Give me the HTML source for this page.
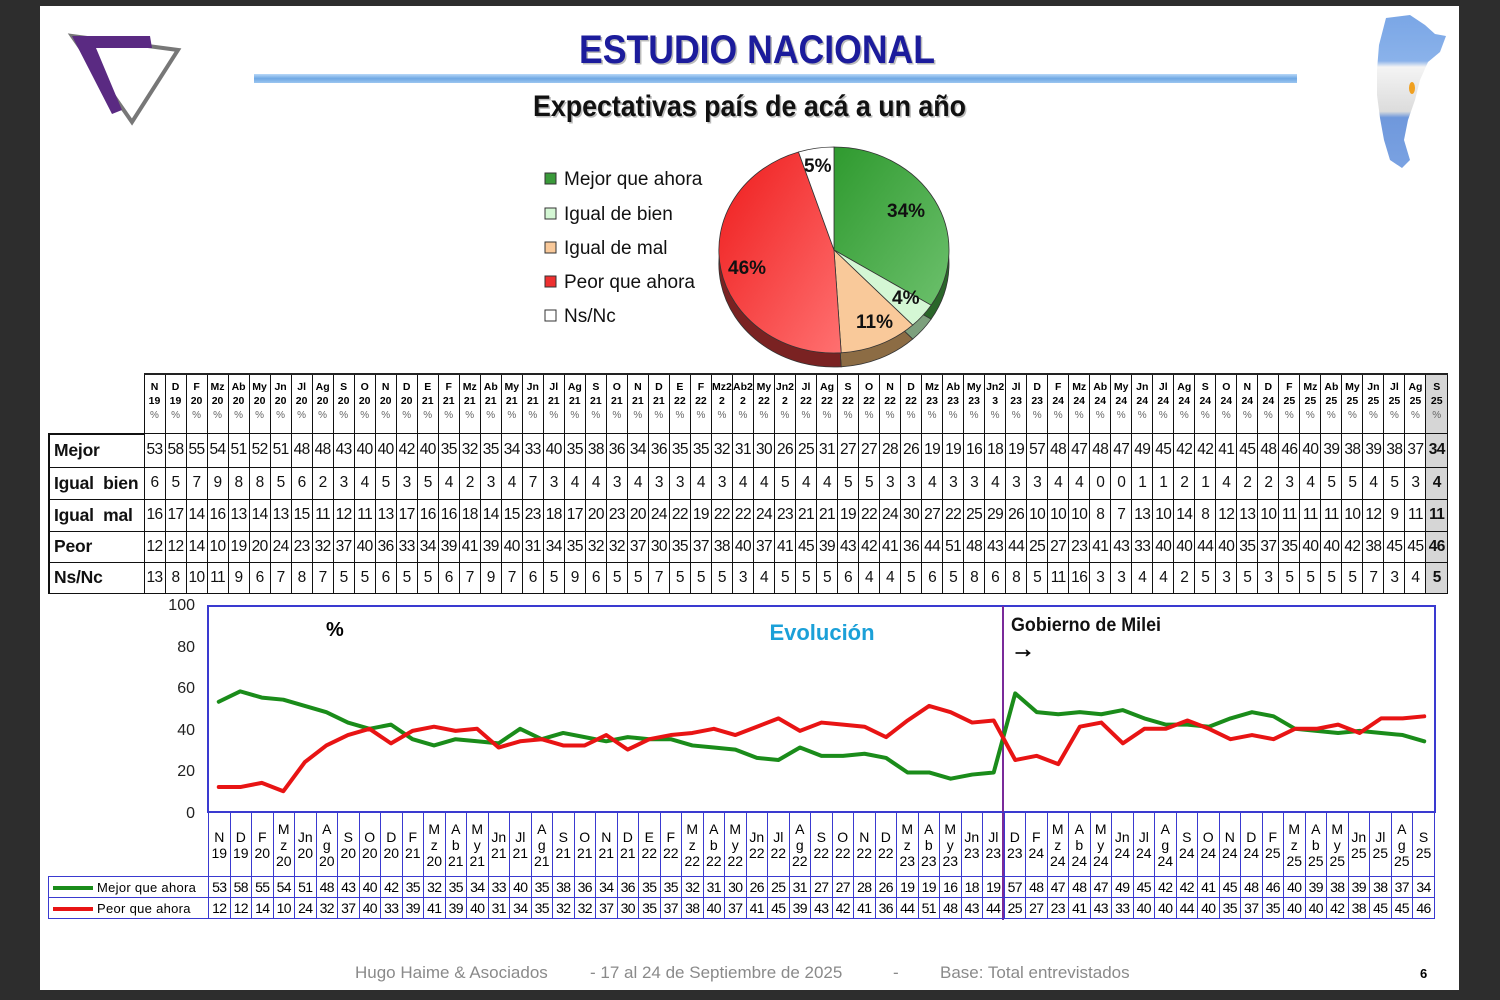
<!DOCTYPE html>
<html><head><meta charset="utf-8"><style>
body{margin:0;width:1500px;height:1000px;background:#2d2d2d;position:relative;overflow:hidden;font-family:"Liberation Sans",sans-serif}
#slide{position:absolute;left:40px;top:6px;width:1419px;height:984px;background:#fff}
table{position:absolute;border-collapse:collapse;table-layout:fixed}
#t1{left:48px;top:373px;width:1400px}
#t1 td,#t1 th{border:1.5px solid #111;padding:0;text-align:center;overflow:hidden;white-space:nowrap}
#t1 th{font-size:10.5px;font-weight:bold;line-height:14px;height:53px;vertical-align:top;padding-top:5px;border-top:2px solid #222}
#t1 th i{font-style:normal;font-weight:normal;color:#666;font-size:10px}
#t1 td{font-size:15.5px;letter-spacing:-0.6px;color:#111}
#t1 td.l{text-align:left;font-weight:bold;font-size:17.5px;letter-spacing:-0.2px;padding-left:4px;border-left:2px solid #111}
#t1 tr.r1 td{height:32px}#t1 tr.r2 td{height:31px}#t1 tr.r3 td{height:31px}#t1 tr.r4 td{height:30px}#t1 tr.r5 td{height:30px}
#t1 td:last-child,#t1 th:last-child{background:#d6d6d6;font-weight:bold}
#t2{left:48px;top:812px;width:1387px}
#t2 td{border:1.5px solid #3a3ad0;padding:0;text-align:center;font-size:14px;letter-spacing:-0.6px;white-space:nowrap;overflow:hidden}
#t2 tr.h td{height:63px;font-size:14px;line-height:16px;letter-spacing:0}
#t2 tr.d td{height:20px}
#t2 td.e{border:none;border-right:1.5px solid #3a3ad0}
#t2 td.lg{text-align:left;font-size:13px;letter-spacing:0.3px}
.sw{display:inline-block;width:40px;height:4px;vertical-align:middle;margin:0 4px 0 4px}
</style></head><body>
<div id="slide"></div>
<svg width="1500" height="1000" style="position:absolute;left:0;top:0">
<defs>
<linearGradient id="bl" x1="0" y1="0" x2="0" y2="1"><stop offset="0" stop-color="#b8d8f8"/><stop offset="0.5" stop-color="#6fa8e4"/><stop offset="1" stop-color="#9cc6f0"/></linearGradient>
<linearGradient id="gr" x1="0" y1="0" x2="1" y2="1"><stop offset="0" stop-color="#2f9a2f"/><stop offset="1" stop-color="#6cc06c"/></linearGradient>
<linearGradient id="rd" x1="0" y1="0" x2="1" y2="1"><stop offset="0" stop-color="#ee1c1c"/><stop offset="1" stop-color="#ff7070"/></linearGradient>
<linearGradient id="ar" x1="0" y1="0" x2="0" y2="1"><stop offset="0" stop-color="#7aa6e6"/><stop offset="0.3" stop-color="#8ab2ea"/><stop offset="0.34" stop-color="#f4f4f4"/><stop offset="0.63" stop-color="#dcdcdc"/><stop offset="0.67" stop-color="#6f98dc"/><stop offset="1" stop-color="#7aa2e2"/></linearGradient>
</defs>
<polygon points="72,36 178,50 132,122" fill="none" stroke="#777" stroke-width="4"/>
<polygon points="72,36 150,36 152,48 96,48 122,110 112,114" fill="#5a2a82"/>
<path d="M1386,18 L1410,15 L1425,25 L1435,34 L1446,36 L1440,52 L1428,62 L1420,80 L1415,100 L1408,120 L1404,140 L1410,160 L1402,168 L1390,160 L1384,140 L1380,118 L1377,95 L1377,70 L1379,45 Z" fill="url(#ar)"/>
<ellipse cx="1412" cy="88" rx="3" ry="6" fill="#f0a020"/>
<text x="580.5" y="64.5" font-size="40" font-weight="bold" fill="#bbb" textLength="356" lengthAdjust="spacingAndGlyphs">ESTUDIO NACIONAL</text>
<text x="579" y="63" font-size="40" font-weight="bold" fill="#1c1c9c" textLength="356" lengthAdjust="spacingAndGlyphs">ESTUDIO NACIONAL</text>
<rect x="254" y="74" width="1043" height="9" fill="url(#bl)"/>
<text x="534.5" y="117.5" font-size="30" font-weight="bold" fill="#bbb" textLength="433" lengthAdjust="spacingAndGlyphs">Expectativas país de acá a un año</text>
<text x="533" y="116" font-size="30" font-weight="bold" fill="#111" textLength="433" lengthAdjust="spacingAndGlyphs">Expectativas país de acá a un año</text>
<g font-size="19" fill="#111">
<rect x="545" y="173" width="11" height="11" fill="#3a9a3a" stroke="#333"/><text x="564" y="185">Mejor que ahora</text>
<rect x="545" y="208" width="11" height="11" fill="#d4f7d4" stroke="#333"/><text x="564" y="220">Igual de bien</text>
<rect x="545" y="242" width="11" height="11" fill="#f9c99a" stroke="#333"/><text x="564" y="254">Igual de mal</text>
<rect x="545" y="276" width="11" height="11" fill="#ee3030" stroke="#333"/><text x="564" y="288">Peor que ahora</text>
<rect x="545" y="310" width="11" height="11" fill="#fff" stroke="#333"/><text x="564" y="322">Ns/Nc</text>
</g>
<g transform="translate(0,14)" stroke="#333" stroke-width="0.8">
<path d="M834,250 L834,147 A115,103 0 0 1 931.1,305.2 Z" fill="#2a662a"/>
<path d="M834,250 L931.1,305.2 A115,103 0 0 1 912.7,325.1 Z" fill="#7da07d"/>
<path d="M834,250 L912.7,325.1 A115,103 0 0 1 841.2,352.8 Z" fill="#8c6c44"/>
<path d="M834,250 L841.2,352.8 A115,103 0 0 1 798.5,152 Z" fill="#7a2222"/>
</g>
<g stroke="#333" stroke-width="0.8">
<path d="M834,250 L834,147 A115,103 0 0 1 931.1,305.2 Z" fill="url(#gr)"/>
<path d="M834,250 L931.1,305.2 A115,103 0 0 1 912.7,325.1 Z" fill="#d4f7d4"/>
<path d="M834,250 L912.7,325.1 A115,103 0 0 1 841.2,352.8 Z" fill="#f9c99a"/>
<path d="M834,250 L841.2,352.8 A115,103 0 0 1 798.5,152 Z" fill="url(#rd)"/>
<path d="M834,250 L798.5,152 A115,103 0 0 1 834,147 Z" fill="#fff"/>
</g>
<g font-size="19" font-weight="bold" fill="#111">
<text x="887" y="217">34%</text><text x="892" y="304">4%</text><text x="856" y="328">11%</text><text x="728" y="274">46%</text><text x="804" y="172">5%</text>
</g>
<text x="95" y="398" font-size="13" font-weight="bold" fill="#2a9fd6" text-anchor="middle">Evolución</text>
<rect x="208" y="606" width="1227" height="206" fill="none" stroke="#3a3ad0" stroke-width="2"/>
<g font-size="16" fill="#222" text-anchor="end">
<text x="195" y="610">100</text><text x="195" y="652">80</text><text x="195" y="693">60</text><text x="195" y="735">40</text><text x="195" y="776">20</text><text x="195" y="818">0</text>
</g>
<text x="326" y="636" font-size="20" font-weight="bold">%</text>
<text x="822" y="640" font-size="22" font-weight="bold" fill="#1ba0d8" text-anchor="middle">Evolución</text>
<text x="1011" y="631" font-size="19" font-weight="bold" fill="#111" textLength="150" lengthAdjust="spacingAndGlyphs">Gobierno de Milei</text>
<text x="1011" y="657" font-size="24" font-weight="bold" stroke="#111" stroke-width="0.8">→</text>
<line x1="1003" y1="606" x2="1003" y2="920" stroke="#7a2a9a" stroke-width="2"/>
<g transform="translate(218.76,812) scale(21.526,-2.08)" fill="none" stroke-linejoin="round" stroke-linecap="round">
<polyline vector-effect="non-scaling-stroke" stroke="#1a8c1a" stroke-width="4" points="0,53 1,58 2,55 3,54 4,51 5,48 6,43 7,40 8,42 9,35 10,32 11,35 12,34 13,33 14,40 15,35 16,38 17,36 18,34 19,36 20,35 21,35 22,32 23,31 24,30 25,26 26,25 27,31 28,27 29,27 30,28 31,26 32,19 33,19 34,16 35,18 36,19 37,57 38,48 39,47 40,48 41,47 42,49 43,45 44,42 45,42 46,41 47,45 48,48 49,46 50,40 51,39 52,38 53,39 54,38 55,37 56,34"/>
<polyline vector-effect="non-scaling-stroke" stroke="#e81414" stroke-width="4" points="0,12 1,12 2,14 3,10 4,24 5,32 6,37 7,40 8,33 9,39 10,41 11,39 12,40 13,31 14,34 15,35 16,32 17,32 18,37 19,30 20,35 21,37 22,38 23,40 24,37 25,41 26,45 27,39 28,43 29,42 30,41 31,36 32,44 33,51 34,48 35,43 36,44 37,25 38,27 39,23 40,41 41,43 42,33 43,40 44,40 45,44 46,40 47,35 48,37 49,35 50,40 51,40 52,42 53,38 54,45 55,45 56,46"/>
</g>
<g font-size="17" fill="#8a8a8a">
<text x="355" y="978">Hugo Haime &amp; Asociados</text>
<text x="590" y="978">-  17 al 24 de Septiembre  de 2025</text>
<text x="893" y="978">-</text>
<text x="940" y="978">Base: Total entrevistados</text>
</g>
<text x="1420" y="978" font-size="13" font-weight="bold">6</text>
</svg>

<table id="t1"><colgroup><col style="width:95px"></colgroup>
<tr><th style="border:none;border-bottom:2px solid #111;background:#fff"></th><th>N<br>19<br><i>%</i></th><th>D<br>19<br><i>%</i></th><th>F<br>20<br><i>%</i></th><th>Mz<br>20<br><i>%</i></th><th>Ab<br>20<br><i>%</i></th><th>My<br>20<br><i>%</i></th><th>Jn<br>20<br><i>%</i></th><th>Jl<br>20<br><i>%</i></th><th>Ag<br>20<br><i>%</i></th><th>S<br>20<br><i>%</i></th><th>O<br>20<br><i>%</i></th><th>N<br>20<br><i>%</i></th><th>D<br>20<br><i>%</i></th><th>E<br>21<br><i>%</i></th><th>F<br>21<br><i>%</i></th><th>Mz<br>21<br><i>%</i></th><th>Ab<br>21<br><i>%</i></th><th>My<br>21<br><i>%</i></th><th>Jn<br>21<br><i>%</i></th><th>Jl<br>21<br><i>%</i></th><th>Ag<br>21<br><i>%</i></th><th>S<br>21<br><i>%</i></th><th>O<br>21<br><i>%</i></th><th>N<br>21<br><i>%</i></th><th>D<br>21<br><i>%</i></th><th>E<br>22<br><i>%</i></th><th>F<br>22<br><i>%</i></th><th>Mz2<br>2<br><i>%</i></th><th>Ab2<br>2<br><i>%</i></th><th>My<br>22<br><i>%</i></th><th>Jn2<br>2<br><i>%</i></th><th>Jl<br>22<br><i>%</i></th><th>Ag<br>22<br><i>%</i></th><th>S<br>22<br><i>%</i></th><th>O<br>22<br><i>%</i></th><th>N<br>22<br><i>%</i></th><th>D<br>22<br><i>%</i></th><th>Mz<br>23<br><i>%</i></th><th>Ab<br>23<br><i>%</i></th><th>My<br>23<br><i>%</i></th><th>Jn2<br>3<br><i>%</i></th><th>Jl<br>23<br><i>%</i></th><th>D<br>23<br><i>%</i></th><th>F<br>24<br><i>%</i></th><th>Mz<br>24<br><i>%</i></th><th>Ab<br>24<br><i>%</i></th><th>My<br>24<br><i>%</i></th><th>Jn<br>24<br><i>%</i></th><th>Jl<br>24<br><i>%</i></th><th>Ag<br>24<br><i>%</i></th><th>S<br>24<br><i>%</i></th><th>O<br>24<br><i>%</i></th><th>N<br>24<br><i>%</i></th><th>D<br>24<br><i>%</i></th><th>F<br>25<br><i>%</i></th><th>Mz<br>25<br><i>%</i></th><th>Ab<br>25<br><i>%</i></th><th>My<br>25<br><i>%</i></th><th>Jn<br>25<br><i>%</i></th><th>Jl<br>25<br><i>%</i></th><th>Ag<br>25<br><i>%</i></th><th>S<br>25<br><i>%</i></th></tr>
<tr class="r1"><td class="l">Mejor</td><td>53</td><td>58</td><td>55</td><td>54</td><td>51</td><td>52</td><td>51</td><td>48</td><td>48</td><td>43</td><td>40</td><td>40</td><td>42</td><td>40</td><td>35</td><td>32</td><td>35</td><td>34</td><td>33</td><td>40</td><td>35</td><td>38</td><td>36</td><td>34</td><td>36</td><td>35</td><td>35</td><td>32</td><td>31</td><td>30</td><td>26</td><td>25</td><td>31</td><td>27</td><td>27</td><td>28</td><td>26</td><td>19</td><td>19</td><td>16</td><td>18</td><td>19</td><td>57</td><td>48</td><td>47</td><td>48</td><td>47</td><td>49</td><td>45</td><td>42</td><td>42</td><td>41</td><td>45</td><td>48</td><td>46</td><td>40</td><td>39</td><td>38</td><td>39</td><td>38</td><td>37</td><td>34</td></tr>
<tr class="r2"><td class="l">Igual&nbsp; bien</td><td>6</td><td>5</td><td>7</td><td>9</td><td>8</td><td>8</td><td>5</td><td>6</td><td>2</td><td>3</td><td>4</td><td>5</td><td>3</td><td>5</td><td>4</td><td>2</td><td>3</td><td>4</td><td>7</td><td>3</td><td>4</td><td>4</td><td>3</td><td>4</td><td>3</td><td>3</td><td>4</td><td>3</td><td>4</td><td>4</td><td>5</td><td>4</td><td>4</td><td>5</td><td>5</td><td>3</td><td>3</td><td>4</td><td>3</td><td>3</td><td>4</td><td>3</td><td>3</td><td>4</td><td>4</td><td>0</td><td>0</td><td>1</td><td>1</td><td>2</td><td>1</td><td>4</td><td>2</td><td>2</td><td>3</td><td>4</td><td>5</td><td>5</td><td>4</td><td>5</td><td>3</td><td>4</td></tr>
<tr class="r3"><td class="l">Igual&nbsp; mal</td><td>16</td><td>17</td><td>14</td><td>16</td><td>13</td><td>14</td><td>13</td><td>15</td><td>11</td><td>12</td><td>11</td><td>13</td><td>17</td><td>16</td><td>16</td><td>18</td><td>14</td><td>15</td><td>23</td><td>18</td><td>17</td><td>20</td><td>23</td><td>20</td><td>24</td><td>22</td><td>19</td><td>22</td><td>22</td><td>24</td><td>23</td><td>21</td><td>21</td><td>19</td><td>22</td><td>24</td><td>30</td><td>27</td><td>22</td><td>25</td><td>29</td><td>26</td><td>10</td><td>10</td><td>10</td><td>8</td><td>7</td><td>13</td><td>10</td><td>14</td><td>8</td><td>12</td><td>13</td><td>10</td><td>11</td><td>11</td><td>11</td><td>10</td><td>12</td><td>9</td><td>11</td><td>11</td></tr>
<tr class="r4"><td class="l">Peor</td><td>12</td><td>12</td><td>14</td><td>10</td><td>19</td><td>20</td><td>24</td><td>23</td><td>32</td><td>37</td><td>40</td><td>36</td><td>33</td><td>34</td><td>39</td><td>41</td><td>39</td><td>40</td><td>31</td><td>34</td><td>35</td><td>32</td><td>32</td><td>37</td><td>30</td><td>35</td><td>37</td><td>38</td><td>40</td><td>37</td><td>41</td><td>45</td><td>39</td><td>43</td><td>42</td><td>41</td><td>36</td><td>44</td><td>51</td><td>48</td><td>43</td><td>44</td><td>25</td><td>27</td><td>23</td><td>41</td><td>43</td><td>33</td><td>40</td><td>40</td><td>44</td><td>40</td><td>35</td><td>37</td><td>35</td><td>40</td><td>40</td><td>42</td><td>38</td><td>45</td><td>45</td><td>46</td></tr>
<tr class="r5"><td class="l">Ns/Nc</td><td>13</td><td>8</td><td>10</td><td>11</td><td>9</td><td>6</td><td>7</td><td>8</td><td>7</td><td>5</td><td>5</td><td>6</td><td>5</td><td>5</td><td>6</td><td>7</td><td>9</td><td>7</td><td>6</td><td>5</td><td>9</td><td>6</td><td>5</td><td>5</td><td>7</td><td>5</td><td>5</td><td>5</td><td>3</td><td>4</td><td>5</td><td>5</td><td>5</td><td>6</td><td>4</td><td>4</td><td>5</td><td>6</td><td>5</td><td>8</td><td>6</td><td>8</td><td>5</td><td>11</td><td>16</td><td>3</td><td>3</td><td>4</td><td>4</td><td>2</td><td>5</td><td>3</td><td>5</td><td>3</td><td>5</td><td>5</td><td>5</td><td>5</td><td>7</td><td>3</td><td>4</td><td>5</td></tr>
</table>

<table id="t2"><colgroup><col style="width:160px"></colgroup>
<tr class="h"><td class="e"></td><td>N<br>19</td><td>D<br>19</td><td>F<br>20</td><td>M<br>z<br>20</td><td>Jn<br>20</td><td>A<br>g<br>20</td><td>S<br>20</td><td>O<br>20</td><td>D<br>20</td><td>F<br>21</td><td>M<br>z<br>20</td><td>A<br>b<br>21</td><td>M<br>y<br>21</td><td>Jn<br>21</td><td>Jl<br>21</td><td>A<br>g<br>21</td><td>S<br>21</td><td>O<br>21</td><td>N<br>21</td><td>D<br>21</td><td>E<br>22</td><td>F<br>22</td><td>M<br>z<br>22</td><td>A<br>b<br>22</td><td>M<br>y<br>22</td><td>Jn<br>22</td><td>Jl<br>22</td><td>A<br>g<br>22</td><td>S<br>22</td><td>O<br>22</td><td>N<br>22</td><td>D<br>22</td><td>M<br>z<br>23</td><td>A<br>b<br>23</td><td>M<br>y<br>23</td><td>Jn<br>23</td><td>Jl<br>23</td><td>D<br>23</td><td>F<br>24</td><td>M<br>z<br>24</td><td>A<br>b<br>24</td><td>M<br>y<br>24</td><td>Jn<br>24</td><td>Jl<br>24</td><td>A<br>g<br>24</td><td>S<br>24</td><td>O<br>24</td><td>N<br>24</td><td>D<br>24</td><td>F<br>25</td><td>M<br>z<br>25</td><td>A<br>b<br>25</td><td>M<br>y<br>25</td><td>Jn<br>25</td><td>Jl<br>25</td><td>A<br>g<br>25</td><td>S<br>25</td></tr>
<tr class="d"><td class="lg"><span class="sw" style="background:#1a8c1a"></span>Mejor que ahora</td><td>53</td><td>58</td><td>55</td><td>54</td><td>51</td><td>48</td><td>43</td><td>40</td><td>42</td><td>35</td><td>32</td><td>35</td><td>34</td><td>33</td><td>40</td><td>35</td><td>38</td><td>36</td><td>34</td><td>36</td><td>35</td><td>35</td><td>32</td><td>31</td><td>30</td><td>26</td><td>25</td><td>31</td><td>27</td><td>27</td><td>28</td><td>26</td><td>19</td><td>19</td><td>16</td><td>18</td><td>19</td><td>57</td><td>48</td><td>47</td><td>48</td><td>47</td><td>49</td><td>45</td><td>42</td><td>42</td><td>41</td><td>45</td><td>48</td><td>46</td><td>40</td><td>39</td><td>38</td><td>39</td><td>38</td><td>37</td><td>34</td></tr>
<tr class="d"><td class="lg"><span class="sw" style="background:#e81414"></span>Peor que ahora</td><td>12</td><td>12</td><td>14</td><td>10</td><td>24</td><td>32</td><td>37</td><td>40</td><td>33</td><td>39</td><td>41</td><td>39</td><td>40</td><td>31</td><td>34</td><td>35</td><td>32</td><td>32</td><td>37</td><td>30</td><td>35</td><td>37</td><td>38</td><td>40</td><td>37</td><td>41</td><td>45</td><td>39</td><td>43</td><td>42</td><td>41</td><td>36</td><td>44</td><td>51</td><td>48</td><td>43</td><td>44</td><td>25</td><td>27</td><td>23</td><td>41</td><td>43</td><td>33</td><td>40</td><td>40</td><td>44</td><td>40</td><td>35</td><td>37</td><td>35</td><td>40</td><td>40</td><td>42</td><td>38</td><td>45</td><td>45</td><td>46</td></tr>
</table>
</body></html>
